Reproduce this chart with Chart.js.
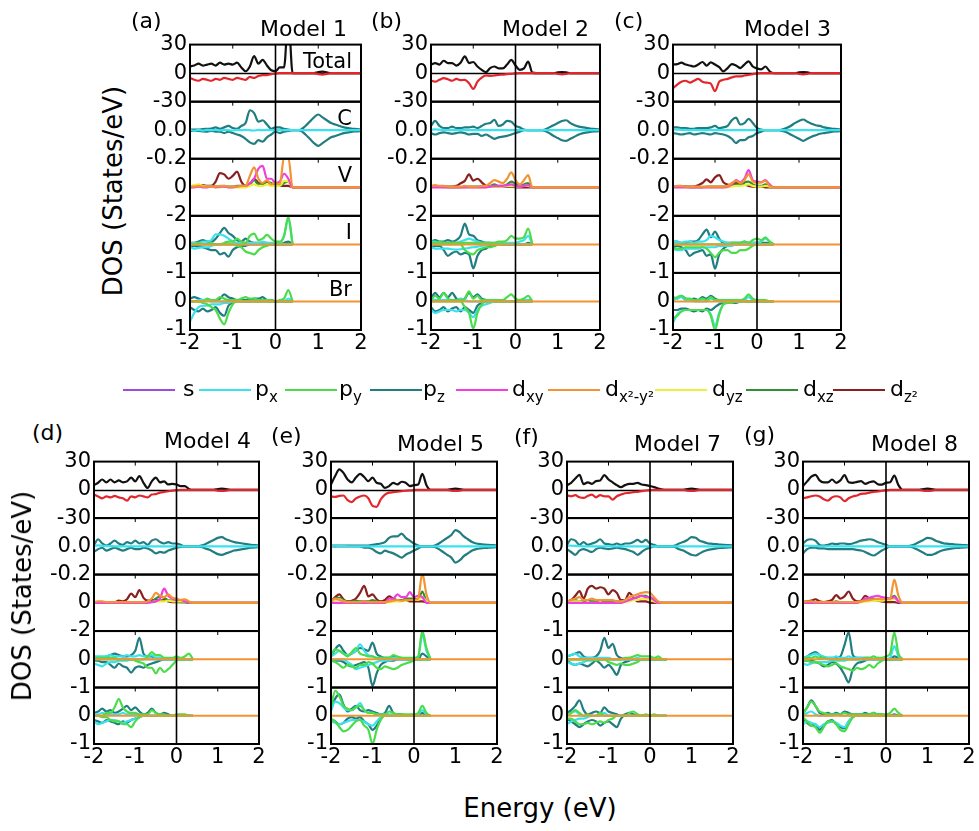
<!DOCTYPE html>
<html>
<head>
<meta charset="utf-8">
<script src="https://cdn.jsdelivr.net/npm/chart.js@4.4.1/dist/chart.umd.min.js"></script>
<style>
  html, body { margin: 0; padding: 0; background: #fff; }
  body { position: relative; width: 979px; height: 831px; overflow: hidden; }
  .sb { font-size: 15px; position: relative; top: 6px; }
</style>
</head>
<body>
<script>
// energy grid (eV) shared by every curve
const energy = [-2.0,-1.9,-1.8,-1.7,-1.6,-1.5,-1.4,-1.3,-1.2,-1.1,-1.0,-0.9,-0.8,-0.7,-0.6,-0.5,-0.4,-0.3,-0.2,-0.1,
  0.0,0.1,0.2,0.3,0.4,0.5,0.6,0.7,0.8,0.9,1.0,1.1,1.2,1.3,1.4,1.5,1.6,1.7,1.8,1.9,2.0];
const xTicks = [-2, -1, 0, 1, 2];
const panelNames = ['Total', 'C', 'V', 'I', 'Br'];

// ---- Model 1 ----
const m1TotUp = [7,8,10,8,9,10,8,11,9,10,9,11,6,2,7,18,10,14,8,3,2,6,6,60,0, 0,0,0,0,0,1,1.5,0.8,0,0,0,0,0,0,0,0];
const m1TotDn = [-5,-7,-8,-6,-7,-8,-6,-7,-5,-6,-7,-5,-6,-7,-4,-5,-3,-2,-2,-1,-0.5,0,0,0,0, 0,0,0,0,0,-1,-1.5,-0.8,0,0,0,0,0,0,0,0];
const m1CPzUp = [0.005,0.005,0.005,0.008,0.01,0.012,0.02,0.01,0.02,0.03,0.015,0.01,0.03,0.05,0.14,0.12,0.06,0.07,0.04,0.01,0.02,0.02,0.01,0.005,0, 0,0.005,0.03,0.06,0.09,0.11,0.09,0.07,0.05,0.04,0.03,0.02,0.015,0.01,0.008,0.005];
const m1CPzDn = [-0.005,-0.005,-0.005,-0.008,-0.01,-0.005,-0.01,-0.01,-0.02,-0.01,-0.02,-0.03,-0.04,-0.06,-0.085,-0.095,-0.07,-0.08,-0.05,-0.03,-0.01,-0.02,-0.01,-0.005,0, 0,-0.005,-0.03,-0.06,-0.09,-0.11,-0.09,-0.07,-0.05,-0.04,-0.03,-0.02,-0.015,-0.01,-0.008,-0.005];
const m1CPx = [0.003,-0.004,0.002,-0.003,0.002,0,0.002,-0.002,0.003,0,-0.002,0.002,0,0.003,0,-0.002,0.002,0,0.002,0,0.001,0,0,0,0];
const m1VDz2 = [0.05,0.1,0.1,0.15,0.1,0.1,0.4,1.0,0.9,0.6,0.8,1.1,0.4,0.1,0.2,0.6,0.3,0.2,0.4,0.2,0.1,0.1,0.1,0.1,0];
const m1VDxy = [0,0,0.05,0,0,0.05,0,0.05,0.05,0,0,0.05,0.1,0.1,0.3,0.6,1.3,1.5,0.6,0.6,0.3,0.4,0.95,0.6,0];
const m1VDx2 = [0.05,0.05,0.1,0.05,0.05,0.05,0.05,0.1,0.1,0.05,0.05,0.05,0.1,0.1,0.8,1.4,0.6,0.3,0.5,0.2,0.3,0.2,2.1,2.1,0];
const m1VDxz = [0,0.05,0.1,0.05,0.05,0.1,0.05,0.05,0.1,0.05,0.05,0.1,0.1,0.1,0.2,0.5,0.2,0.25,0.4,0.3,0.1,0.1,0.3,0.4,0];
const m1VDyz = [0.05,0.15,0.2,0.1,0.05,0.05,0,0,0.05,0,0,0,0,0,0.1,0.2,0.1,0.1,0.2,0.1,0.1,0.1,0.45,0.4,0];
const m1IPzUp = [0.05,0.05,0.1,0.15,0.1,0.1,0.2,0.4,0.58,0.4,0.3,0.15,0.1,0.2,0.1,0.05,0.05,0.05,0.05,0,0,0,0.05,0.1,0];
const m1IPzDn = [-0.05,-0.05,-0.05,-0.1,-0.15,-0.2,-0.2,-0.35,-0.3,-0.43,-0.2,-0.1,-0.05,-0.05,0,0,0,0,0,0,0,0,0,0,0];
const m1IPyUp = [0,0,0.05,0,0,0.05,0,0,0.05,0.1,0.1,0.2,0.1,0.05,0.3,0.38,0.15,0.2,0.33,0.2,0.1,0.1,0.3,0.97,0];
const m1IPyDn = [0,0,0,0,0,0,0,0,0,0,0,-0.05,-0.1,-0.25,-0.3,-0.35,-0.2,-0.1,-0.05,0,0,0,0,0,0];
const m1IPxUp = [0.05,0.05,0.05,0.1,0.1,0.15,0.35,0.35,0.3,0.2,0.1,0.05,0.05,0.05,0.05,0.05,0.05,0.1,0.05,0.05,0.05,0.05,0.3,0.9,0];
const m1IPxDn = [-0.1,-0.15,-0.12,-0.1,-0.1,-0.05,0,0,0,0,0,0,0,0,0,0,0,0,0,0,0,0,0,0,0];
const m1BrPzUp = [0.1,0.15,0.1,0.05,0.05,0.05,0.05,0.1,0.25,0.15,0.1,0.05,0.05,0.05,0.05,0.1,0.1,0.15,0.05,0.05,0,0,0,0,0];
const m1BrPzDn = [-0.2,-0.3,-0.35,-0.25,-0.35,-0.3,-0.2,-0.4,-0.5,-0.15,-0.05,0,0,0,0,0,0,0,0,0,0,0,0,0,0];
const m1BrPyUp = [0,0,0,0,0.1,0.05,0.05,0.15,0.1,0.05,0.05,0.05,0.1,0.15,0.1,0.1,0.05,0.05,0.05,0.05,0,0.05,0.1,0.4,0];
const m1BrPyDn = [0,0,0,-0.05,-0.1,-0.2,-0.3,-0.6,-0.8,-0.4,-0.1,0,0,0,0,0,0,0,0,0,0,0,0,0,0];
const m1BrPxUp = [0,0,0.05,0.05,0.05,0,0,0,0,0,0,0,0,0,0,0,0,0,0,0,0,0,0,0.1,0];
const m1BrPxDn = [-0.7,-0.4,-0.2,-0.15,-0.15,-0.1,-0.1,-0.1,-0.05,-0.05,0,0,0,0,0,0,0,0,0,0,0,0,0,0,0];

// ---- Model 2 ----
const m2TotUp = [9,10.6,9,13,10.6,10.6,8,11,17.7,10.6,11.7,7,3.5,1,5.3,7,5,5,9,14,8,3.5,5,12,0.5, 0,0,0,0,0,0.8,1.2,0.8,0,0,0,0,0,0,0,0];
const m2TotDn = [-7.8,-9,-7,-5.3,-6.4,-8,-6,-7.4,-7,-10.6,-16.6,-9,-4.6,-2.5,-2.8,-2.5,-1.8,-1.5,-1,-0.7,-0.3,0,0,0,0, 0,0,0,0,0,-0.8,-1.2,-0.8,0,0,0,0,0,0,0,0];
const m2CPzUp = [0.03,0.065,0.03,0.015,0.015,0.025,0.015,0.015,0.02,0.02,0.025,0.015,0.03,0.045,0.05,0.072,0.03,0.04,0.065,0.06,0.03,0.02,0.005,0,0, 0,0,0.005,0.02,0.035,0.05,0.065,0.07,0.05,0.035,0.025,0.02,0.015,0.01,0.008,0.005];
const m2CPzDn = [-0.02,-0.03,-0.02,-0.015,-0.02,-0.025,-0.02,-0.015,-0.02,-0.03,-0.025,-0.025,-0.04,-0.03,-0.045,-0.06,-0.05,-0.045,-0.04,-0.03,-0.02,-0.01,0,0,0, 0,0,-0.005,-0.02,-0.04,-0.055,-0.07,-0.075,-0.06,-0.045,-0.03,-0.02,-0.015,-0.01,-0.008,-0.005];
const m2CPx = [0.004,0.006,0.004,0.002,0,0.002,0,0,0.002,0,0,0,0,0,0,0,0,0,0,0,0,0,0,0,0];
const m2VDz2 = [0.05,0.05,0.05,0.05,0.05,0.05,0.1,0.28,0.45,0.9,0.47,0.6,0.35,0.1,0.05,0.05,0.05,0.05,0.05,0.05,0,0,0,0,0];
const m2VDxy = [0,0,0,0,0,0,0,0,0,0,0,0,0,0,0.05,0.1,0.1,0.1,0.15,0.2,0.1,0.05,0.1,0.15,0];
const m2VDx2 = [0.1,0.15,0.1,0.1,0.05,0.05,0.05,0.05,0.1,0.05,0.05,0.05,0.1,0.1,0.3,0.5,0.4,0.3,0.6,1.05,0.5,0.2,0.5,0.85,0];
const m2VDxz = [0.05,0.05,0.05,0.05,0,0,0,0,0.05,0.05,0.05,0.05,0.05,0.05,0.1,0.2,0.1,0.1,0.2,0.4,0.25,0.1,0.2,0.3,0];
const m2VDyz = [0,0.05,0.05,0,0,0,0,0,0,0,0,0,0,0,0.05,0.05,0.05,0.05,0.1,0.1,0.05,0.05,0.1,0.1,0];
const m2IPzUp = [0.1,0.15,0.1,0.1,0.15,0.1,0.15,0.3,0.73,0.35,0.3,0.15,0.1,0.05,0.05,0,0.05,0,0,0,0.05,0,0,0.05,0];
const m2IPzDn = [-0.1,-0.05,-0.05,-0.2,-0.4,-0.3,-0.25,-0.35,-0.3,-0.35,-0.84,-0.4,-0.2,-0.15,-0.05,-0.05,0,0,0,0,0,0,0,0,0];
const m2IPyUp = [0.05,0.05,0.1,0.05,0.05,0.05,0.05,0.05,0.05,0.05,0.05,0.05,0.05,0.05,0.05,0.05,0.1,0.1,0.15,0.3,0.2,0.2,0.25,0.55,0];
const m2IPyDn = [0,0,0,0,0,0,0,0,-0.2,-0.3,-0.35,-0.2,-0.15,-0.1,-0.1,-0.05,0,0,0,0,0,0,0,0,0];
const m2IPxUp = [0.1,0.1,0.05,0.05,0.05,0.05,0.05,0.1,0.15,0.2,0.15,0.1,0.05,0.05,0.05,0.05,0.05,0.05,0.05,0.05,0.05,0.1,0.15,0.3,0];
const m2IPxDn = [-0.1,-0.15,-0.15,-0.15,-0.15,-0.17,-0.18,-0.17,-0.15,-0.12,-0.1,-0.08,-0.05,-0.03,0,0,0,0,0,0,0,0,0,0,0];
const m2BrPzUp = [0.1,0.3,0.15,0.3,0.15,0.3,0.1,0.05,0.1,0.3,0.15,0.25,0.1,0.05,0,0,0,0,0,0,0,0,0,0.05,0];
const m2BrPzDn = [-0.2,-0.35,-0.3,-0.2,-0.35,-0.25,-0.2,-0.35,-0.2,-0.3,-0.4,-0.15,-0.05,0,0,0,0,0,0,0,0,0,0,0,0];
const m2BrPyUp = [0.05,0.2,0.1,0.3,0.1,0.05,0.05,0.05,0.1,0.35,0.1,0.2,0.05,0.05,0.05,0.05,0.05,0.05,0.15,0.25,0.1,0.05,0.1,0.2,0];
const m2BrPyDn = [0,0,0,0,0,0,0,0,-0.2,-0.4,-0.95,-0.4,-0.1,0,0,0,0,0,0,0,0,0,0,0,0];
const m2BrPxUp = [0.1,0.05,0.05,0.05,0.05,0.05,0.05,0.1,0.05,0,0,0,0,0,0,0,0,0,0,0,0,0,0.05,0.05,0];
const m2BrPxDn = [-0.3,-0.4,-0.35,-0.3,-0.3,-0.3,-0.35,-0.3,-0.3,-0.4,-0.55,-0.3,-0.15,-0.1,-0.05,0,0,0,0,0,0,0,0,0,0];

// ---- Model 3 ----
const m3TotUp = [9,9.5,11,9,8,7,9,11.7,8,11.3,9,6.4,1.8,5.3,9.5,8,5.3,9,12.4,7,5,4,7,2,0, 0,0,0,0,0,0.8,1.2,0.8,0,0,0,0,0,0,0,0];
const m3TotDn = [-16,-12,-9,-8,-10,-8,-6,-9,-10,-11,-19,-9,-7,-6,-4.5,-3.5,-3.5,-2.5,-1.8,-1,-0.3,0,0,0,0, 0,0,0,0,0,-0.8,-1.2,-0.8,0,0,0,0,0,0,0,0];
const m3CPzUp = [0.02,0.02,0.015,0.015,0.01,0.01,0.015,0.015,0.015,0.02,0.03,0.015,0.02,0.03,0.07,0.088,0.04,0.05,0.08,0.05,0.015,0.005,0,0,0, 0,0.005,0.015,0.03,0.05,0.065,0.075,0.06,0.045,0.035,0.03,0.02,0.015,0.01,0.008,0.005];
const m3CPzDn = [-0.02,-0.025,-0.03,-0.025,-0.02,-0.03,-0.025,-0.02,-0.025,-0.03,-0.02,-0.025,-0.03,-0.04,-0.06,-0.09,-0.07,-0.07,-0.05,-0.04,-0.02,-0.01,0,0,0, 0,-0.005,-0.015,-0.03,-0.045,-0.06,-0.075,-0.06,-0.045,-0.035,-0.025,-0.02,-0.015,-0.01,-0.008,-0.005];
const m3CPx = [0.005,0.004,0.003,0.002,0,0.002,0,0,0,0,0,0,0,0,0,0,0,0,0,0,0,0,0,0,0];
const m3VDz2 = [0.05,0.05,0.05,0.05,0.05,0.05,0.15,0.3,0.55,0.35,0.7,0.85,0.35,0.2,0.15,0.3,0.3,0.2,0.1,0.05,0.05,0.05,0,0,0];
const m3VDxy = [0,0,0,0,0,0,0,0,0,0,0,0,0,0.05,0.2,0.5,0.35,0.6,1.2,0.5,0.4,0.35,0.5,0.2,0];
const m3VDx2 = [0.05,0.1,0.1,0.05,0.05,0.05,0.05,0.05,0.05,0.05,0.05,0.05,0.05,0.1,0.3,0.45,0.3,0.5,0.9,0.4,0.3,0.35,0.45,0.1,0];
const m3VDxz = [0.05,0.05,0.05,0.05,0,0,0,0,0.05,0.05,0.05,0.05,0.05,0.05,0.1,0.2,0.15,0.35,0.4,0.2,0.1,0.1,0.2,0.05,0];
const m3VDyz = [0,0.05,0.05,0,0,0,0,0,0,0,0,0,0,0,0.05,0.1,0.1,0.15,0.2,0.1,0.05,0.05,0.1,0.05,0];
const m3IPzUp = [0.1,0.1,0.05,0.05,0.1,0.1,0.15,0.35,0.52,0.25,0.45,0.2,0.05,0.05,0.05,0.05,0.05,0.1,0.05,0.05,0.05,0.05,0.05,0.05,0];
const m3IPzDn = [-0.1,-0.05,-0.1,-0.2,-0.4,-0.3,-0.25,-0.2,-0.4,-0.35,-0.85,-0.35,-0.15,-0.05,0,0,0,0,0,0,0,0,0,0,0];
const m3IPyUp = [0,0,0,0,0,0,0,0,0,0,0,0,0,0,0.05,0.05,0.05,0.1,0.05,0.15,0.2,0.15,0.25,0.1,0];
const m3IPyDn = [-0.15,-0.15,-0.15,-0.1,-0.1,-0.1,-0.1,-0.1,-0.15,-0.3,-0.45,-0.3,-0.2,-0.2,-0.3,-0.3,-0.2,-0.2,-0.15,-0.05,0,0,0,0,0];
const m3IPxUp = [0.1,0.1,0.05,0.1,0.1,0.05,0.1,0.1,0.15,0.3,0.25,0.15,0.1,0.05,0.05,0.05,0.05,0.05,0.05,0.05,0.05,0.1,0.2,0.1,0];
const m3IPxDn = [-0.15,-0.2,-0.2,-0.15,-0.15,-0.15,-0.15,-0.1,-0.1,-0.1,-0.1,-0.05,-0.05,-0.05,-0.05,0,0,0,0,0,0,0,0,0,0];
const m3BrPzUp = [0.15,0.1,0.2,0.1,0.05,0.1,0.05,0.15,0.1,0.2,0.1,0.05,0.05,0.05,0,0,0.05,0.05,0,0,0,0,0,0,0];
const m3BrPzDn = [-0.3,-0.3,-0.25,-0.25,-0.3,-0.35,-0.3,-0.35,-0.25,-0.3,-0.2,-0.1,-0.05,-0.05,-0.05,-0.05,0,0,0,0,0,0,0,0,0];
const m3BrPyUp = [0.1,0.15,0.2,0.1,0.1,0.05,0.05,0.1,0.05,0.15,0.05,0.05,0.05,0.05,0.05,0.05,0.05,0.1,0.25,0.1,0.05,0.05,0.05,0,0];
const m3BrPyDn = [-0.6,-0.5,-0.35,-0.3,-0.3,-0.3,-0.3,-0.3,-0.3,-0.5,-1.0,-0.45,-0.1,-0.05,-0.05,0,0,0,0,0,0,0,0,0,0];
const m3BrPxUp = [0.05,0.1,0.15,0.05,0.05,0,0,0,0,0.1,0.05,0,0,0,0,0,0,0.05,0.15,0.05,0,0,0,0,0];
const m3BrPxDn = [-0.75,-0.45,-0.35,-0.3,-0.3,-0.3,-0.3,-0.3,-0.3,-0.45,-0.85,-0.4,-0.1,-0.05,0,0,0,0,0,0,0,0,0,0,0];

// ---- Model 4 ----
const m4TotUp = [5,7.5,11,8,11,8,10,8,9,13,9,14.6,7.5,2,9,13,8,9,5.7,6.4,5.7,4,4,1,0, 0,0,0,0,0,0.8,1.2,0.8,0,0,0,0,0,0,0,0];
const m4TotDn = [-5,-7,-9,-7,-8,-6.5,-8,-9,-11.5,-7,-8,-6,-7,-8,-5,-4.5,-3,-2.2,-1.5,-0.8,-0.3,0,0,0,0, 0,0,0,0,0,-0.8,-1.2,-0.8,0,0,0,0,0,0,0,0];
const m4CPzUp = [0.01,0.05,0.02,0.005,0.02,0.04,0.02,0.01,0.03,0.02,0.04,0.02,0.03,0.01,0.04,0.05,0.03,0.02,0.03,0.02,0.02,0.01,0,0,0, 0,0.005,0.015,0.03,0.045,0.06,0.065,0.05,0.04,0.03,0.025,0.02,0.015,0.01,0.008,0.005];
const m4CPzDn = [-0.04,-0.02,-0.01,-0.03,-0.02,-0.01,-0.02,-0.03,-0.02,-0.01,-0.02,-0.02,-0.01,-0.015,-0.03,-0.05,-0.04,-0.045,-0.03,-0.02,-0.01,-0.005,0,0,0, 0,-0.005,-0.015,-0.025,-0.04,-0.055,-0.06,-0.05,-0.04,-0.03,-0.025,-0.02,-0.015,-0.01,-0.008,-0.005];
const m4CPx = [0.004,0.006,0.004,0.002,0.002,0,0,0,0,0,0,0,0,0,0,0,0,0,0,0,0,0,0,0,0];
const m4VDz2 = [0.05,0.05,0.05,0.05,0.05,0.05,0.15,0.1,0.25,0.65,0.4,0.9,0.35,0.15,0.2,0.2,0.15,0.2,0.1,0.05,0.05,0.05,0.05,0,0];
const m4VDxy = [0,0,0,0,0,0,0,0,0,0,0,0,0,0,0.05,0.1,0.3,1.0,0.5,0.3,0.2,0.2,0.1,0.05,0];
const m4VDx2 = [0.05,0.1,0.1,0.05,0.05,0.05,0.05,0.05,0.05,0.05,0.05,0.05,0.05,0.1,0.3,0.7,0.5,0.4,0.6,0.35,0.3,0.2,0.25,0.1,0];
const m4VDxz = [0.05,0.05,0.05,0.05,0.05,0.05,0.05,0.05,0.05,0.05,0.05,0.05,0.05,0.05,0.1,0.3,0.45,0.35,0.2,0.15,0.1,0.05,0.05,0,0];
const m4VDyz = [0,0.05,0.05,0,0,0,0,0,0,0,0,0,0,0,0.05,0.1,0.1,0.1,0.15,0.1,0.1,0.1,0.1,0.05,0];
const m4IPzUp = [0.05,0.05,0.05,0.1,0.15,0.2,0.15,0.1,0.1,0.15,0.3,0.76,0.2,0.1,0.1,0.05,0.05,0,0,0,0,0,0,0,0];
const m4IPzDn = [-0.05,-0.05,-0.1,-0.1,-0.2,-0.3,-0.15,-0.25,-0.3,-0.47,-0.3,-0.25,-0.3,-0.2,-0.15,-0.1,-0.05,0,0,0,0,0,0,0,0];
const m4IPyUp = [0.05,0.05,0.05,0.05,0.05,0.05,0,0,0,0,0,0,0,0.1,0.25,0.15,0.15,0.05,0.05,0.05,0.1,0.05,0.1,0.2,0];
const m4IPyDn = [0,0,0,0,0,0,0,0,0,0,-0.05,-0.1,-0.15,-0.3,-0.3,-0.5,-0.3,-0.45,-0.35,-0.2,-0.05,0,0,0,0];
const m4IPxUp = [0.1,0.1,0.1,0.1,0.15,0.1,0.1,0.1,0.15,0.1,0.1,0.15,0.1,0.1,0.15,0.05,0.05,0,0,0,0,0,0,0,0];
const m4IPxDn = [-0.15,-0.2,-0.25,-0.15,-0.1,-0.1,-0.05,-0.05,-0.05,0,0,0,0,0,0,0,0,0,0,0,0,0,0,0,0];
const m4BrPzUp = [0.1,0.15,0.25,0.15,0.2,0.1,0.15,0.25,0.35,0.2,0.3,0.15,0.05,0.1,0.25,0.1,0.05,0.1,0.05,0,0,0,0,0,0];
const m4BrPzDn = [-0.15,-0.2,-0.25,-0.15,-0.2,-0.25,-0.3,-0.2,-0.25,-0.15,-0.1,-0.05,0,0,0,0,0,0,0,0,0,0,0,0,0];
const m4BrPyUp = [0,0,0,0.1,0.1,0.3,0.59,0.3,0.15,0.1,0.1,0.05,0.05,0.05,0.2,0.1,0.05,0.05,0,0,0.05,0.05,0.05,0,0];
const m4BrPyDn = [0,0,-0.05,-0.05,-0.15,-0.2,-0.2,-0.3,-0.3,-0.4,-0.2,-0.05,0,0,0,0,0,0,0,0,0,0,0,0,0];
const m4BrPxUp = [0.05,0.05,0.1,0.05,0.05,0.05,0.05,0.1,0.05,0.05,0.05,0.05,0,0,0,0,0,0,0,0,0,0,0,0,0];
const m4BrPxDn = [-0.2,-0.3,-0.25,-0.2,-0.15,-0.15,-0.2,-0.25,-0.2,-0.15,-0.1,-0.05,0,0,0,0,0,0,0,0,0,0,0,0,0];

// ---- Model 5 ----
const m5TotUp = [5.7,14.6,21.8,18,11,8,13,17,13.6,9.3,13,7.5,6.4,2,4,7.5,5.7,8.6,7.5,4,5,5.7,17,5,0, 0,0,0,0,0.8,1.2,0.8,0,0,0,0,0,0,0,0,0];
const m5TotDn = [-7,-7.5,-6.5,-6,-11,-13,-9,-7,-6,-9,-17,-18,-10,-5,-3,-2.5,-2,-1.5,-1,-0.5,-0.2,0,0,0,0, 0,0,0,0,-0.8,-1.2,-0.8,0,0,0,0,0,0,0,0,0];
const m5CPzUp = [0.005,0.005,0.005,0.005,0.005,0.005,0.005,0.005,0.005,0.005,0.01,0.015,0.02,0.03,0.06,0.07,0.07,0.09,0.06,0.04,0.02,0.005,0,0,0, 0.005,0.02,0.04,0.06,0.08,0.115,0.1,0.07,0.05,0.03,0.02,0.015,0.012,0.01,0.008,0.005];
const m5CPzDn = [0,0,0,0,0,0,0,0,-0.01,-0.01,-0.02,-0.04,-0.05,-0.03,-0.04,-0.05,-0.065,-0.08,-0.06,-0.045,-0.03,-0.015,0,0,0, -0.005,-0.02,-0.04,-0.06,-0.08,-0.115,-0.1,-0.07,-0.05,-0.03,-0.02,-0.015,-0.012,-0.01,-0.008,-0.005];
const m5CPx = [0.003,0.004,0.003,0.002,0,0,0,0,0,0,0,0,0,0,0,0,0,0,0,0,0,0,0,0,0];
const m5VDz2 = [0.1,0.4,0.6,0.25,0.1,0.15,0.3,0.7,1.2,0.45,0.6,0.25,0.1,0.2,0.45,0.3,0.2,0.2,0.2,0.1,0.1,0.1,0.1,0.05,0];
const m5VDxy = [0,0,0,0,0,0,0,0,0,0,0,0,0,0,0.3,0.3,0.6,0.4,0.4,0.75,0.4,0.5,0.4,0,0];
const m5VDx2 = [0.1,0.3,0.2,0.1,0.05,0.05,0.05,0.05,0.1,0.05,0.05,0.05,0.05,0.05,0.1,0.15,0.2,0.15,0.2,0.2,0.2,0.3,2.1,0.6,0];
const m5VDxz = [0.05,0.3,0.35,0.2,0.05,0.1,0.15,0.1,0.1,0.1,0.2,0.1,0.05,0.05,0.1,0.2,0.15,0.15,0.3,0.3,0.3,0.2,0.8,0.1,0];
const m5VDyz = [0.05,0.2,0.25,0.1,0.05,0.05,0.05,0.05,0.05,0.05,0.05,0.05,0,0,0.05,0.1,0.1,0.1,0.15,0.2,0.2,0.2,0.4,0.1,0];
const m5IPzUp = [0.1,0.35,0.5,0.3,0.15,0.2,0.3,0.4,0.35,0.3,0.59,0.2,0.1,0.05,0.05,0.1,0.05,0.05,0,0,0,0,0.2,0.1,0];
const m5IPzDn = [-0.05,-0.05,-0.05,-0.1,-0.2,-0.25,-0.2,-0.15,-0.1,-0.3,-0.94,-0.5,-0.2,-0.1,-0.05,-0.05,0,0,0,0,0,0,0,0,0];
const m5IPyUp = [0.15,0.35,0.3,0.2,0.1,0.25,0.4,0.2,0.15,0.1,0.1,0.05,0.05,0.05,0.05,0.15,0.1,0.05,0.05,0.05,0.05,0.1,1.0,0.4,0];
const m5IPyDn = [-0.05,-0.1,-0.2,-0.3,-0.2,-0.25,-0.3,-0.2,-0.2,-0.1,-0.15,-0.3,-0.35,-0.25,-0.3,-0.35,-0.3,-0.2,-0.15,-0.1,-0.05,0,0,0,0];
const m5IPxUp = [0.1,0.2,0.3,0.2,0.15,0.2,0.3,0.53,0.3,0.15,0.1,0.05,0.05,0.05,0.05,0.05,0.05,0,0,0,0,0.05,0.88,0.3,0];
const m5IPxDn = [0,0,0,0,-0.1,-0.2,-0.35,-0.3,-0.25,-0.2,-0.15,-0.1,-0.05,-0.05,-0.05,0,0,0,0,0,0,0,0,0,0];
const m5BrPzUp = [0.2,0.6,0.76,0.4,0.15,0.25,0.35,0.2,0.15,0.2,0.15,0.1,0.05,0.1,0.35,0.1,0.05,0.05,0,0,0,0,0.1,0,0];
const m5BrPzDn = [-0.15,-0.2,-0.3,-0.25,-0.1,-0.05,-0.1,-0.05,-0.2,-0.3,-0.5,-0.35,-0.1,0,0,0,0,0,0,0,0,0,0,0,0];
const m5BrPyUp = [0.3,0.88,0.7,0.35,0.25,0.2,0.3,0.35,0.2,0.1,0.1,0.05,0.05,0.05,0.15,0.1,0.05,0.05,0.05,0.05,0.05,0.1,0.35,0.1,0];
const m5BrPyDn = [-0.1,-0.2,-0.4,-0.55,-0.5,-0.35,-0.2,-0.15,-0.35,-0.5,-1.0,-0.5,-0.15,0,0,0,0,0,0,0,0,0,0,0,0];
const m5BrPxUp = [0.2,0.5,0.45,0.3,0.2,0.2,0.3,0.45,0.2,0.1,0.1,0.05,0.05,0.05,0.05,0.05,0,0,0,0,0,0.05,0.2,0.05,0];
const m5BrPxDn = [-0.2,-0.25,-0.3,-0.25,-0.2,-0.15,-0.15,-0.15,-0.2,-0.3,-0.35,-0.2,-0.05,0,0,0,0,0,0,0,0,0,0,0,0];

// ---- Model 7 ----
const m7TotUp = [5,7.5,12,16,6,8,6.4,9.3,10,15.7,11,8,5,2.9,5,6.4,6.4,7.5,5.7,5,4,2.9,1.4,0.4,0, 0,0,0,0,0.8,1.2,0.8,0,0,0,0,0,0,0,0,0];
const m7TotDn = [-5.7,-6.8,-5.7,-7.9,-8.6,-6.5,-5,-7.9,-5.7,-6.8,-7,-10.4,-6.8,-5,-3.6,-3.2,-2.5,-2.1,-1.4,-0.7,-0.3,0,0,0,0, 0,0,0,0,-0.8,-1.2,-0.8,0,0,0,0,0,0,0,0,0];
const m7CPzUp = [0.01,0.05,0.04,0.01,0.03,0.01,0.02,0.03,0.05,0.02,0.015,0.01,0.02,0.01,0.02,0.02,0.03,0.045,0.03,0.045,0.02,0.01,0,0,0, 0,0.005,0.02,0.03,0.045,0.065,0.06,0.04,0.03,0.02,0.018,0.015,0.012,0.01,0.008,0.005];
const m7CPzDn = [-0.02,-0.04,-0.06,-0.03,-0.02,-0.03,-0.04,-0.02,-0.01,-0.015,-0.02,-0.015,-0.01,-0.015,-0.02,-0.03,-0.04,-0.06,-0.04,-0.02,-0.01,0,0,0,0, 0,-0.005,-0.02,-0.03,-0.045,-0.06,-0.065,-0.05,-0.035,-0.025,-0.02,-0.015,-0.012,-0.01,-0.008,-0.005];
const m7CPx = [0.005,0.004,0.003,0.002,0,0,0,0,0,0,0,0,0,0,0,0,0,0,0,0,0,0,0,0,0];
const m7VDz2 = [0.05,0.1,0.25,0.41,0.15,0.5,0.6,0.5,0.55,0.5,0.3,0.45,0.35,0.1,0.1,0.35,0.2,0.05,0.05,0.05,0,0,0,0,0];
const m7VDxy = [0,0,0,0,0,0,0,0,0,0,0,0,0,0,0.05,0.1,0.15,0.2,0.25,0.2,0.2,0.1,0,0,0];
const m7VDx2 = [0.05,0.1,0.15,0.2,0.1,0.1,0.15,0.1,0.1,0.1,0.1,0.1,0.05,0.05,0.1,0.2,0.25,0.3,0.35,0.38,0.35,0.2,0.05,0,0];
const m7VDxz = [0.05,0.05,0.1,0.05,0.05,0.1,0.05,0.05,0.1,0.05,0.05,0.05,0.05,0.05,0.05,0.1,0.15,0.2,0.25,0.25,0.15,0.1,0,0,0];
const m7VDyz = [0,0.05,0.05,0.05,0,0,0,0,0,0,0,0,0,0,0.05,0.05,0.1,0.1,0.15,0.15,0.1,0.05,0,0,0];
const m7IPzUp = [0.1,0.15,0.2,0.25,0.1,0.05,0.05,0.1,0.3,0.76,0.4,0.55,0.15,0.05,0,0.05,0,0,0,0,0,0,0,0,0];
const m7IPzDn = [-0.05,-0.15,-0.2,-0.15,-0.2,-0.25,-0.15,-0.05,-0.15,-0.3,-0.2,-0.35,-0.55,-0.2,-0.1,-0.05,0,0,0,0,0,0,0,0,0];
const m7IPyUp = [0,0,0,0,0,0,0,0,0,0,0,0,0,0,0.05,0.05,0.1,0.15,0.1,0.1,0.1,0.05,0.1,0,0];
const m7IPyDn = [0,0,0,0,0,0,0,-0.05,0,0,-0.1,-0.15,-0.2,-0.15,-0.2,-0.2,-0.15,-0.1,0,0,0,0,0,0,0];
const m7IPxUp = [0.1,0.15,0.2,0.1,0.05,0.05,0.05,0.05,0.05,0.05,0.05,0,0,0,0,0,0,0.05,0,0,0,0,0,0,0];
const m7IPxDn = [-0.1,-0.15,-0.2,-0.15,-0.1,-0.05,-0.05,0,0,0,0,0,0,0,0,0,0,0,0,0,0,0,0,0,0];
const m7BrPzUp = [0.1,0.2,0.35,0.55,0.2,0.05,0.1,0.15,0.1,0.3,0.15,0.1,0.05,0,0.05,0.1,0.05,0,0,0,0,0,0,0,0];
const m7BrPzDn = [-0.1,-0.2,-0.3,-0.4,-0.3,-0.2,-0.15,-0.2,-0.35,-0.25,-0.2,-0.3,-0.4,-0.1,0,0,0,0,0,0,0,0,0,0,0];
const m7BrPyUp = [0,0.1,0.2,0.1,0,0.05,0,0,0.1,0,0,0,0,0,0,0.1,0.15,0.05,0,0.05,0,0.05,0,0,0];
const m7BrPyDn = [-0.1,-0.1,-0.2,-0.3,-0.3,-0.25,-0.3,-0.25,-0.2,-0.25,-0.15,-0.1,0,0,0,0,0,0,0,0,0,0,0,0,0];
const m7BrPxUp = [0,0.1,0.15,0.05,0,0,0,0,0.05,0.1,0,0,0,0,0,0,0,0,0,0,0,0,0,0,0];
const m7BrPxDn = [-0.3,-0.2,-0.15,-0.1,-0.1,-0.05,0,0,0,0,0,0,0,0,0,0,0,0,0,0,0,0,0,0,0];

// ---- Model 8 ----
const m8TotUp = [4,9,14,16,10,8,8,11,7.5,10,15.7,8,7.5,8.5,9.3,6.4,8,9,6,5.5,7.5,8,15,5,0, 0,0,0,0,0.8,1.2,0.8,0,0,0,0,0,0,0,0,0];
const m8TotDn = [-9,-8,-6.8,-6,-7,-10,-11.4,-8,-6.8,-8,-12,-9,-7,-6,-4.3,-4,-3,-2.2,-1.8,-1,-0.5,0,0,0,0, 0,0,0,0,-0.8,-1.2,-0.8,0,0,0,0,0,0,0,0,0];
const m8CPzUp = [0.02,0.045,0.05,0.04,0.01,0.005,0.01,0.02,0.015,0.02,0.02,0.015,0.02,0.03,0.04,0.045,0.05,0.045,0.03,0.02,0.01,0,0,0,0, 0,0.005,0.015,0.03,0.045,0.06,0.055,0.04,0.03,0.02,0.018,0.015,0.012,0.01,0.008,0.005];
const m8CPzDn = [-0.05,-0.02,-0.01,-0.01,-0.015,-0.015,-0.02,-0.02,-0.02,-0.02,-0.02,-0.02,-0.02,-0.025,-0.03,-0.04,-0.055,-0.065,-0.05,-0.03,-0.015,0,0,0,0, 0,-0.005,-0.015,-0.03,-0.045,-0.06,-0.06,-0.05,-0.035,-0.025,-0.02,-0.015,-0.012,-0.01,-0.008,-0.005];
const m8CPx = [0.006,0.004,0.003,0.002,0,0,0,0,0,0,0,0,0,0,0,0,0,0,0,0,0,0,0,0,0];
const m8VDz2 = [0.05,0.1,0.15,0.25,0.1,0.05,0.1,0.2,0.55,0.3,0.45,0.8,0.3,0.1,0.15,0.5,0.3,0.2,0.15,0.1,0.05,0.05,0.05,0,0];
const m8VDxy = [0,0,0,0,0,0,0,0,0,0,0,0,0,0,0.1,0.3,0.35,0.45,0.5,0.4,0.35,0.3,0.4,0.1,0];
const m8VDx2 = [0.05,0.1,0.1,0.05,0.05,0.05,0.05,0.05,0.05,0.05,0.05,0.05,0.05,0.05,0.1,0.15,0.2,0.25,0.3,0.25,0.25,0.3,1.65,0.5,0];
const m8VDxz = [0.05,0.05,0.1,0.05,0.05,0.05,0.05,0.05,0.1,0.05,0.05,0.05,0.05,0.05,0.1,0.2,0.2,0.3,0.2,0.2,0.25,0.3,0.5,0.1,0];
const m8VDyz = [0,0.05,0.05,0,0,0,0,0,0,0,0,0,0,0,0.05,0.1,0.1,0.15,0.15,0.15,0.2,0.2,0.3,0.1,0];
const m8IPzUp = [0.05,0.1,0.2,0.25,0.15,0.05,0.05,0.05,0.05,0.1,0.5,0.95,0.15,0.05,0.05,0.05,0.05,0,0.05,0,0,0,0.1,0.05,0];
const m8IPzDn = [-0.05,-0.05,-0.05,-0.1,-0.15,-0.25,-0.2,-0.1,-0.15,-0.3,-0.55,-0.82,-0.35,-0.15,-0.1,-0.05,0,0,0,0,0,0,0,0,0];
const m8IPyUp = [0.05,0.05,0.05,0.1,0.05,0.05,0,0,0,0,0,0,0,0,0,0.05,0.05,0.1,0.05,0.05,0.1,0.2,0.95,0.2,0];
const m8IPyDn = [-0.05,-0.05,-0.1,-0.1,-0.15,-0.2,-0.25,-0.2,-0.15,-0.25,-0.3,-0.35,-0.4,-0.3,-0.35,-0.3,-0.2,-0.3,-0.15,-0.05,0,0,0,0,0];
const m8IPxUp = [0.05,0.1,0.15,0.2,0.15,0.1,0.05,0.05,0.1,0.05,0.05,0.1,0.05,0.05,0.05,0,0,0,0,0,0,0.05,0.47,0.1,0];
const m8IPxDn = [-0.15,-0.2,-0.15,-0.1,-0.1,-0.1,-0.1,-0.05,-0.05,-0.05,-0.05,0,0,0,0,0,0,0,0,0,0,0,0,0,0];
const m8BrPzUp = [0.1,0.3,0.55,0.35,0.1,0.05,0.1,0.05,0.1,0.05,0.15,0.1,0.05,0.05,0.05,0.1,0.05,0.1,0.05,0.05,0,0,0.05,0,0];
const m8BrPzDn = [-0.1,-0.25,-0.35,-0.3,-0.5,-0.35,-0.2,-0.15,-0.3,-0.4,-0.45,-0.2,-0.05,0,0,0,0,0,0,0,0,0,0,0,0];
const m8BrPyUp = [0.05,0.3,0.5,0.35,0.15,0.1,0.05,0.05,0.05,0.05,0.1,0.05,0.05,0.05,0.05,0.05,0.05,0.1,0.05,0.05,0.05,0.1,0.25,0.1,0];
const m8BrPyDn = [-0.05,-0.2,-0.35,-0.4,-0.6,-0.4,-0.2,-0.2,-0.3,-0.5,-0.55,-0.3,-0.05,0,0,0,0,0,0,0,0,0,0,0,0];
const m8BrPxUp = [0,0.1,0.15,0.05,0,0,0,0,0.05,0,0,0,0,0,0,0,0,0.05,0,0,0,0,0,0,0];
const m8BrPxDn = [-0.3,-0.2,-0.25,-0.3,-0.4,-0.3,-0.25,-0.2,-0.25,-0.35,-0.4,-0.2,-0.05,0,0,0,0,0,0,0,0,0,0,0,0];

const FONT = "'DejaVu Sans', sans-serif";
const INK = '#000';
const COLORS = {
  up: '#111', down: '#e3262b',
  s: '#9b4be0', px: '#38e2ee', py: '#4bdc4b', pz: '#217d80',
  dxy: '#f03ee0', dx2: '#f29433', dyz: '#eeee3c', dxz: '#338f33', dz2: '#8a1f1f'
};

// panel layout: plot box [left, top, right, bottom] in page pixels
const models = [
  { tag: '(a)', title: 'Model 1', box: [190, 43, 361, 330], tagX: 131, tagY: 29, titleX: 347, titleY: 37, vMax: 2, names: true,
    tot: [m1TotUp, m1TotDn], c: [m1CPzUp, m1CPzDn, m1CPx], v: [m1VDz2, m1VDxz, m1VDyz, m1VDxy, m1VDx2],
    i: [m1IPzUp, m1IPzDn, m1IPxUp, m1IPxDn, m1IPyUp, m1IPyDn], br: [m1BrPzUp, m1BrPzDn, m1BrPxUp, m1BrPxDn, m1BrPyUp, m1BrPyDn] },
  { tag: '(b)', title: 'Model 2', box: [431, 43, 600, 330], tagX: 371, tagY: 29, titleX: 589, titleY: 37, vMax: 2,
    tot: [m2TotUp, m2TotDn], c: [m2CPzUp, m2CPzDn, m2CPx], v: [m2VDz2, m2VDxz, m2VDyz, m2VDxy, m2VDx2],
    i: [m2IPzUp, m2IPzDn, m2IPxUp, m2IPxDn, m2IPyUp, m2IPyDn], br: [m2BrPzUp, m2BrPzDn, m2BrPxUp, m2BrPxDn, m2BrPyUp, m2BrPyDn] },
  { tag: '(c)', title: 'Model 3', box: [673, 43, 841, 330], tagX: 614, tagY: 29, titleX: 831, titleY: 37, vMax: 2,
    tot: [m3TotUp, m3TotDn], c: [m3CPzUp, m3CPzDn, m3CPx], v: [m3VDz2, m3VDxz, m3VDyz, m3VDxy, m3VDx2],
    i: [m3IPzUp, m3IPzDn, m3IPxUp, m3IPxDn, m3IPyUp, m3IPyDn], br: [m3BrPzUp, m3BrPzDn, m3BrPxUp, m3BrPxDn, m3BrPyUp, m3BrPyDn] },
  { tag: '(d)', title: 'Model 4', box: [94, 460, 259, 744], tagX: 32, tagY: 441, titleX: 251, titleY: 449, vMax: 2,
    tot: [m4TotUp, m4TotDn], c: [m4CPzUp, m4CPzDn, m4CPx], v: [m4VDz2, m4VDxz, m4VDyz, m4VDxy, m4VDx2],
    i: [m4IPzUp, m4IPzDn, m4IPxUp, m4IPxDn, m4IPyUp, m4IPyDn], br: [m4BrPzUp, m4BrPzDn, m4BrPxUp, m4BrPxDn, m4BrPyUp, m4BrPyDn] },
  { tag: '(e)', title: 'Model 5', box: [331, 460, 497, 744], tagX: 271, tagY: 444, titleX: 484, titleY: 452, vMax: 2,
    tot: [m5TotUp, m5TotDn], c: [m5CPzUp, m5CPzDn, m5CPx], v: [m5VDz2, m5VDxz, m5VDyz, m5VDxy, m5VDx2],
    i: [m5IPzUp, m5IPzDn, m5IPxUp, m5IPxDn, m5IPyUp, m5IPyDn], br: [m5BrPzUp, m5BrPzDn, m5BrPxUp, m5BrPxDn, m5BrPyUp, m5BrPyDn] },
  { tag: '(f)', title: 'Model 7', box: [567, 460, 733, 744], tagX: 514, tagY: 445, titleX: 721, titleY: 452, vMax: 1,
    tot: [m7TotUp, m7TotDn], c: [m7CPzUp, m7CPzDn, m7CPx], v: [m7VDz2, m7VDxz, m7VDyz, m7VDxy, m7VDx2],
    i: [m7IPzUp, m7IPzDn, m7IPxUp, m7IPxDn, m7IPyUp, m7IPyDn], br: [m7BrPzUp, m7BrPzDn, m7BrPxUp, m7BrPxDn, m7BrPyUp, m7BrPyDn] },
  { tag: '(g)', title: 'Model 8', box: [803, 460, 969, 744], tagX: 744, tagY: 443, titleX: 958, titleY: 452, vMax: 2,
    tot: [m8TotUp, m8TotDn], c: [m8CPzUp, m8CPzDn, m8CPx], v: [m8VDz2, m8VDxz, m8VDyz, m8VDxy, m8VDx2],
    i: [m8IPzUp, m8IPzDn, m8IPxUp, m8IPxDn, m8IPyUp, m8IPyDn], br: [m8BrPzUp, m8BrPzDn, m8BrPxUp, m8BrPxDn, m8BrPyUp, m8BrPyDn] }
];

const AXIS_W = 60, PAD_TOP = 14, PAD_RIGHT = 8, XAXIS_H = 30;
const TICK_SIZE = 21;

// one curve; "flat" curves continue along zero past their last listed energy
function curve(vals, color, axis, flat) {
  const pts = [];
  energy.forEach((e, k) => {
    if (k < vals.length) pts.push({ x: e, y: vals[k] });
    else if (flat) pts.push({ x: e, y: 0 });
  });
  return { data: pts, borderColor: color, yAxisID: axis };
}

function yAxis(min, max, ticks, weight, fmt) {
  return {
    type: 'linear', position: 'left', stack: 'dos', stackWeight: 1, weight: weight,
    min: min, max: max,
    afterBuildTicks: s => { s.ticks = ticks.map(v => ({ value: v })); },
    afterFit: s => { s.width = AXIS_W; },
    grid: { display: false, drawTicks: false },
    border: { display: false },
    ticks: { autoSkip: false, padding: 3, color: INK, font: { family: FONT, size: TICK_SIZE },
             callback: fmt || (v => String(v)) }
  };
}

// frames, zero lines, inner tick marks and sub-panel names
const panelFrame = {
  id: 'panelFrame',
  beforeDatasetsDraw(chart) {
    const { ctx, chartArea: a, scales } = chart;
    const y0 = Math.round(scales.tot.getPixelForValue(0)) + 0.5;
    ctx.save();
    ctx.strokeStyle = INK;
    ctx.lineWidth = 1.5;
    ctx.beginPath(); ctx.moveTo(a.left, y0); ctx.lineTo(a.right, y0); ctx.stroke();
    ctx.restore();
  },
  afterDatasetsDraw(chart, args, opts) {
    const { ctx, chartArea: a, scales } = chart;
    ctx.save();
    ctx.strokeStyle = COLORS.dx2;
    ctx.lineWidth = 2;
    ['i', 'br'].forEach(id => {
      const y = scales[id].getPixelForValue(0);
      ctx.beginPath(); ctx.moveTo(a.left, y); ctx.lineTo(a.right, y); ctx.stroke();
    });
    ctx.strokeStyle = INK;
    const x0 = scales.x.getPixelForValue(0);
    ctx.lineWidth = 1.6;
    ctx.beginPath(); ctx.moveTo(x0, a.top); ctx.lineTo(x0, a.bottom); ctx.stroke();
    ctx.lineWidth = 2;
    ['tot', 'c', 'v', 'i', 'br'].forEach((id, k) => {
      const s = scales[id];
      ctx.strokeRect(a.left, s.top, a.right - a.left, s.bottom - s.top);
      ctx.lineWidth = 1;
      [-1, 1].forEach(t => {
        const x = scales.x.getPixelForValue(t);
        ctx.beginPath(); ctx.moveTo(x, s.top); ctx.lineTo(x, s.top + 4); ctx.stroke();
      });
      ctx.lineWidth = 2;
      if (opts.names) {
        ctx.fillStyle = INK;
        ctx.font = '21px ' + FONT;
        ctx.textAlign = 'right';
        ctx.textBaseline = 'alphabetic';
        ctx.fillText(panelNames[k], a.right - 9, s.top + 23);
      }
    });
    ctx.restore();
  }
};

function buildModel(m) {
  const [L, T, R, B] = m.box;
  const W = R - L + AXIS_W + PAD_RIGHT;
  const H = B - T + PAD_TOP + XAXIS_H;
  const canvas = document.createElement('canvas');
  canvas.width = W;
  canvas.height = H;
  canvas.style.cssText = `position:absolute;left:${L - AXIS_W}px;top:${T - PAD_TOP}px;width:${W}px;height:${H}px;`;
  document.body.appendChild(canvas);

  // listed bottom layer first
  const ds = [
    curve(m.tot[0], COLORS.up, 'tot'),
    curve(m.tot[1], COLORS.down, 'tot'),
    curve(m.c[0], COLORS.pz, 'c'),
    curve(m.c[1], COLORS.pz, 'c'),
    curve(m.c[2], COLORS.px, 'c', true),
    curve(m.v[0], COLORS.dz2, 'v', true),
    curve(m.v[1], COLORS.dxz, 'v', true),
    curve(m.v[2], COLORS.dyz, 'v', true),
    curve(m.v[3], COLORS.dxy, 'v', true),
    curve(m.v[4], COLORS.dx2, 'v', true),
    curve(m.i[0], COLORS.pz, 'i'),
    curve(m.i[1], COLORS.pz, 'i'),
    curve(m.i[2], COLORS.px, 'i'),
    curve(m.i[3], COLORS.px, 'i'),
    curve(m.i[4], COLORS.py, 'i'),
    curve(m.i[5], COLORS.py, 'i'),
    curve(m.br[0], COLORS.pz, 'br'),
    curve(m.br[1], COLORS.pz, 'br'),
    curve(m.br[2], COLORS.px, 'br'),
    curve(m.br[3], COLORS.px, 'br'),
    curve(m.br[4], COLORS.py, 'br'),
    curve(m.br[5], COLORS.py, 'br')
  ];
  ds.forEach((d, k) => { d.order = ds.length - k; });

  new Chart(canvas, {
    type: 'line',
    data: { datasets: ds },
    options: {
      responsive: false,
      animation: false,
      devicePixelRatio: 1,
      parsing: false,
      normalized: true,
      events: [],
      layout: { padding: { top: PAD_TOP, right: PAD_RIGHT, left: 0, bottom: 0 } },
      elements: {
        line: { borderWidth: 2.2, cubicInterpolationMode: 'monotone', fill: false },
        point: { radius: 0 }
      },
      plugins: { legend: { display: false }, tooltip: { enabled: false }, panelFrame: { names: !!m.names } },
      scales: {
        x: {
          type: 'linear', position: 'bottom', min: -2, max: 2,
          afterBuildTicks: s => { s.ticks = xTicks.map(v => ({ value: v })); },
          afterFit: s => { s.height = XAXIS_H; },
          grid: { display: false, drawTicks: false },
          border: { display: false },
          ticks: { autoSkip: false, maxRotation: 0, padding: 1, color: INK, font: { family: FONT, size: TICK_SIZE },
                   callback: v => String(v) }
        },
        tot: yAxis(-30, 30, [30, 0, -30], 5),
        c: yAxis(-0.2, 0.2, [0, -0.2], 4, v => v.toFixed(1)),
        v: yAxis(-m.vMax, m.vMax, [0, -m.vMax], 3),
        i: yAxis(-1, 1, [0, -1], 2),
        br: yAxis(-1, 1, [0, -1], 1)
      }
    },
    plugins: [panelFrame]
  });
}

// page text placed by its baseline (DejaVu Sans ascent 0.846 em at line-height 1)
function addText(html, x, base, size, anchor) {
  const d = document.createElement('div');
  d.innerHTML = html;
  let css = `position:absolute;left:${x}px;top:${base - 0.846 * size}px;font:${size}px/${size}px ${FONT};color:${INK};white-space:nowrap;`;
  if (anchor === 'right') css += 'transform:translateX(-100%);';
  if (anchor === 'center') css += 'transform:translateX(-50%);';
  d.style.cssText = css;
  document.body.appendChild(d);
  return d;
}

function addRotated(text, cx, cy, size) {
  const d = document.createElement('div');
  d.textContent = text;
  d.style.cssText = `position:absolute;left:${cx}px;top:${cy}px;font:${size}px/${size}px ${FONT};color:${INK};white-space:nowrap;transform:translate(-50%,-50%) rotate(-90deg);`;
  document.body.appendChild(d);
}

models.forEach(m => {
  buildModel(m);
  addText(m.tag, m.tagX, m.tagY, 22);
  addText(m.title, m.titleX, m.titleY, 22, 'right');
});

addRotated('DOS (States/eV)', 113, 191, 26);
addRotated('DOS (States/eV)', 22, 596, 26);
addText('Energy (eV)', 540, 817, 26, 'center');

// orbital legend: line start, text start, colour, label
const legendItems = [
  [123, 183, COLORS.s, 's'],
  [199, 255, COLORS.px, 'p<span class="sb">x</span>'],
  [285, 339, COLORS.py, 'p<span class="sb">y</span>'],
  [370, 423, COLORS.pz, 'p<span class="sb">z</span>'],
  [456, 512, COLORS.dxy, 'd<span class="sb">xy</span>'],
  [548, 605, COLORS.dx2, 'd<span class="sb">x²-y²</span>'],
  [655, 712, COLORS.dyz, 'd<span class="sb">yz</span>'],
  [746, 803, COLORS.dxz, 'd<span class="sb">xz</span>'],
  [833, 890, COLORS.dz2, 'd<span class="sb">z²</span>']
];
legendItems.forEach(([lx, tx, color, html]) => {
  const line = document.createElement('div');
  line.style.cssText = `position:absolute;left:${lx}px;top:389px;width:52px;height:2px;background:${color};`;
  document.body.appendChild(line);
  addText(html, tx, 397, 22);
});
</script>
</body>
</html>
